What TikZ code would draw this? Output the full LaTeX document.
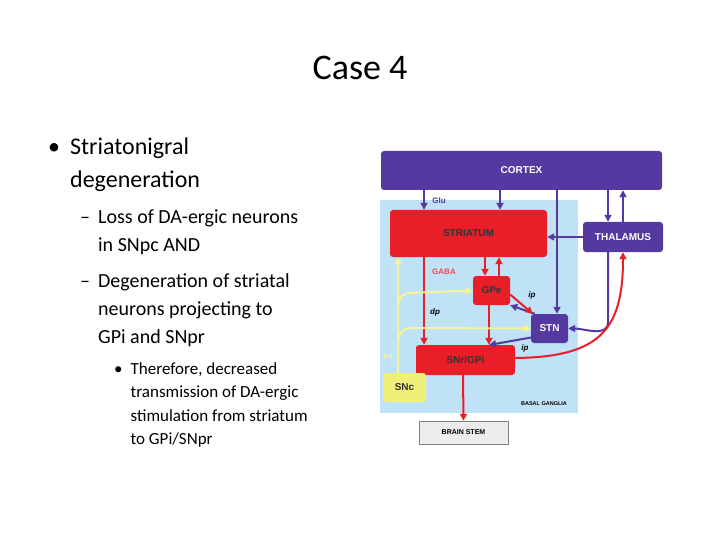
\documentclass[tikz,border=0pt]{standalone}
\usepackage{fontspec}
\setmainfont{Carlito}
\newfontfamily\arl{Liberation Sans}
\usetikzlibrary{arrows.meta}
\definecolor{pur}{RGB}{84,58,160}
\definecolor{rd}{RGB}{232,30,40}
\definecolor{lb}{RGB}{192,226,246}
\definecolor{yl}{RGB}{240,240,120}
\definecolor{ylb}{RGB}{245,245,150}
\tikzset{
 pbox/.style={fill=pur,rounded corners=3pt,text=white,font=\arl\bfseries\fontsize{10}{11}\selectfont,inner sep=0pt},
 rbox/.style={fill=rd,rounded corners=3pt,text=black!80,font=\arl\bfseries\fontsize{10}{11}\selectfont,inner sep=0pt},
 pa/.style={draw=pur,line width=2pt,-{Triangle[length=7pt,width=7pt]}},
 ra/.style={draw=rd,line width=2pt,-{Triangle[length=7pt,width=7pt]}},
 ya/.style={draw=ylb,line width=2pt,-{Triangle[length=7pt,width=7pt]}},
 lab/.style={font=\arl\bfseries\itshape\fontsize{8}{9}\selectfont,inner sep=0pt},
 txt/.style={anchor=north west,align=left,inner sep=0pt}
}
\begin{document}
\begin{tikzpicture}[x=1pt,y=-1pt]
\useasboundingbox (0,0) rectangle (720,540);
\node (title) at (360,68) {\fontsize{36}{40}\selectfont Case 4};
\node[txt] (b1) at (48,138) {\fontsize{24}{33}\selectfont •\hspace{10pt}\parbox[t]{160pt}{Striatonigral\\degeneration}};
\node[txt] (b2) at (80,210) {\fontsize{20}{28}\selectfont –\hspace{8pt}\parbox[t]{260pt}{Loss of DA-ergic neurons\\in SNpc AND}};
\node[txt] (b3) at (80,273) {\fontsize{20}{28}\selectfont –\hspace{8pt}\parbox[t]{260pt}{Degeneration of striatal\\neurons projecting to\\GPi and SNpr}};
\node[txt] (b4) at (114,362) {\fontsize{17}{23.5}\selectfont •\hspace{8pt}\parbox[t]{240pt}{Therefore, decreased\\transmission of DA-ergic\\stimulation from striatum\\to GPi/SNpr}};
% diagram
\fill[lb] (380,200) rectangle (578,413);
\node[pbox,minimum width=281pt,minimum height=39pt] (cx) at (521.5,170.5) {CORTEX};
\node[rbox,minimum width=157pt,minimum height=47pt] (st) at (468.5,233.5) {STRIATUM};
\node[pbox,minimum width=80pt,minimum height=30pt] (th) at (623,237) {THALAMUS};
\node[rbox,minimum width=37pt,minimum height=29pt] (gpe) at (491.5,290.5) {GPe};
\node[pbox,minimum width=37pt,minimum height=29pt] (stn) at (549.5,328.5) {STN};
\node[rbox,minimum width=99pt,minimum height=30pt] (snr) at (465.5,360) {SNr/GPi};
\node[rbox,fill=yl,minimum width=43pt,minimum height=29pt] (snc) at (404.5,387.5) {SNc};
\node[draw=gray,fill=gray!15,minimum width=89pt,minimum height=23pt,inner sep=0pt,font=\arl\bfseries\fontsize{7}{8}\selectfont] (bs) at (463.5,432.5) {BRAIN STEM};
\node[font=\arl\bfseries\fontsize{5.5}{6}\selectfont,inner sep=0pt] (bg) at (544,404) {BASAL GANGLIA};
% purple arrows
\draw[pa] (cx.south -| 424,0) -- (st.north -| 424,0);
\draw[pa] (cx.south -| 500,0) -- (st.north -| 500,0);
\draw[pa] (cx.south -| 557,0) -- (stn.north -| 557,0);
\draw[pa] (cx.south -| 608,0) -- (th.north -| 608,0);
\draw[pa] (th.north -| 623,0) -- (cx.south -| 623,0);
\draw[pa] (th.west) -- (st.east |- th.west);
\draw[pa] (th.south -| 608,0) -- (608,322) to[out=270,in=0] (stn.east);
\draw[pa] (stn.south west) ++(2,-6) -- (489,345);
\draw[pa] (stn.north west) ++(4,0) -- (gpe.south east);
% red arrows
\draw[ra] (st.south -| 424,0) -- (snr.north -| 424,0);
\draw[ra] (st.south -| 485,0) -- (gpe.north -| 485,0);
\draw[ra] (gpe.north -| 499,0) -- (st.south -| 499,0);
\draw[ra] (gpe.south -| 489,0) -- (snr.north -| 489,0);
\draw[ra] (gpe.east) ++(0,4) -- ([xshift=2pt]stn.north west);
\draw[ra] (snr.east) ++(0,-2) .. controls (600,357) and (623,330) .. (th.south -| 623,0);
\draw[ra] (snr.south -| 463,0) -- (bs.north);
% yellow
\draw[ya] (snc.north -| 398,0) -- (st.south -| 398,0);
\draw[ya] (398,305) to[out=90,in=180] (410,293) -- (gpe.west);
\draw[ya] (398,342) to[out=90,in=180] (410,328) -- (stn.west);
% labels
\node[lab,font=\arl\bfseries\fontsize{8}{9}\selectfont,text=pur] (glu) at (439,201) {Glu};
\node[lab,font=\arl\bfseries\fontsize{8}{9}\selectfont,text=rd!80] (gaba) at (444,272) {GABA};
\node[lab] (dp) at (435,312) {dp};
\node[lab] (ip1) at (532,295) {ip};
\node[lab] (ip2) at (525,348) {ip};
\node[lab,font=\arl\bfseries\fontsize{6}{7}\selectfont,text=ylb] (da) at (388,356) {DA};
\end{tikzpicture}
\end{document}
